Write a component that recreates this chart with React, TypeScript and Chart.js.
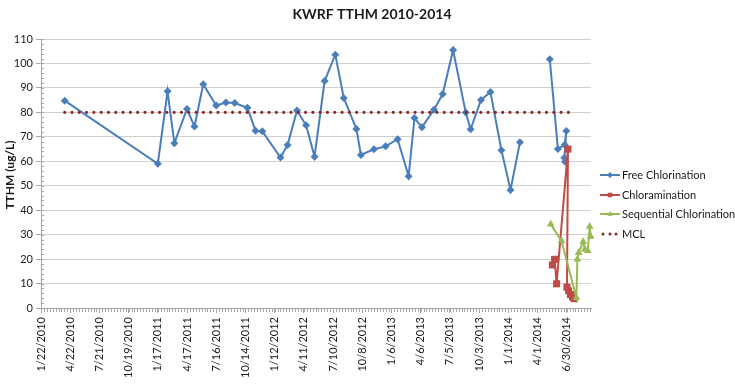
import React, { useEffect, useRef } from 'react';
import { Chart, registerables } from 'chart.js';

Chart.register(...registerables);

// ---------- data ----------
const CHART_TITLE = 'KWRF TTHM 2010-2014';
const Y_TITLE = 'TTHM (ug/L)';
const X_START = '1/22/2010';
const X_END = '9/13/2014';

const xTickLabels = [
  '1/22/2010', '4/22/2010', '7/21/2010', '10/19/2010', '1/17/2011', '4/17/2011',
  '7/16/2011', '10/14/2011', '1/12/2012', '4/11/2012', '7/10/2012', '10/8/2012',
  '1/6/2013', '4/6/2013', '7/5/2013', '10/3/2013', '1/1/2014', '4/1/2014', '6/30/2014',
];
const yTickValues = [0, 10, 20, 30, 40, 50, 60, 70, 80, 90, 100, 110];

// sample dates expressed as days after 1/22/2010
const freeDay = [73, 360, 390, 411, 450, 473, 500, 540, 570, 597, 636, 661, 682, 738, 760, 789, 817, 843, 874, 907, 933, 972, 986, 1026, 1062, 1099, 1133, 1151, 1174, 1211, 1238, 1270, 1309, 1324, 1356, 1385, 1419, 1447, 1476, 1520, 1568, 1593, 1614, 1619, 1613, 1615];
const freeValue: (number | null)[] = [84.8, 59, 88.6, 67.4, 81.4, 74.2, 91.5, 82.8, 84, 83.8, 81.9, 72.5, 72.3, 61.5, 66.7, 80.8, 74.7, 61.9, 92.8, 103.6, 85.9, 73.2, 62.6, 64.9, 66.1, 69, 53.9, 77.7, 73.9, 81.1, 87.5, 105.5, 79.9, 73.1, 85.1, 88.3, 64.5, 48.3, 67.8, null, 101.7, 65, 66.8, 72.4, 61.4, 59.8];

const chlorDay = [1576, 1583, 1589, 1624, 1621, 1626, 1632, 1638, 1643];
const chlorValue = [17.6, 19.9, 9.9, 65, 8.5, 7, 5.5, 4.5, 3.8];

const seqDay = [1571, 1604, 1650, 1653, 1657, 1671, 1676, 1685, 1691, 1694];
const seqValue = [34.2, 27.5, 4.2, 19.9, 22.6, 27.1, 24, 23.4, 33.3, 29.2];

const mclDay = [73, 1640];
const mclValue = [80, 80];

const seriesNames = ['Free Chlorination', 'Chloramination', 'Sequential Chlorination', 'MCL'];
const seriesColors = ['#4A7EBB', '#BE4B48', '#98B954', '#8C2525'];

// ---------- helpers ----------
const BASE = Date.UTC(2010, 0, 22);
function dayOf(label: string): number {
  const [m, d, y] = label.split('/').map(Number);
  return Math.round((Date.UTC(y, m - 1, d) - BASE) / 86400000);
}
function pts(days: number[], vals: (number | null)[]) {
  return days.map((d, i) => ({ x: d, y: vals[i] }));
}

const FONT = 'Lato, "Open Sans", sans-serif';

function drawMarker(ctx: CanvasRenderingContext2D, style: string, x: number, y: number, r: number, color: string) {
  ctx.fillStyle = color;
  ctx.beginPath();
  if (style === 'rectRot') {
    ctx.moveTo(x, y - r); ctx.lineTo(x + r, y); ctx.lineTo(x, y + r); ctx.lineTo(x - r, y);
  } else if (style === 'rect') {
    ctx.rect(x - r * 0.75, y - r * 0.75, r * 1.5, r * 1.5);
  } else {
    ctx.moveTo(x, y - r); ctx.lineTo(x + r * 0.9, y + r * 0.6); ctx.lineTo(x - r * 0.9, y + r * 0.6);
  }
  ctx.closePath();
  ctx.fill();
}

const overlayPlugin = {
  id: 'overlay',
  afterDraw(chart: any) {
    const ctx: CanvasRenderingContext2D = chart.ctx;
    const { left, right, bottom } = chart.chartArea;
    const xs = chart.scales.x;
    const ys = chart.scales.y;
    ctx.save();

    // minor ticks
    ctx.strokeStyle = '#a6a6a6';
    ctx.lineWidth = 1;
    ctx.beginPath();
    for (let d = dayOf(X_START); d <= dayOf(X_END); d += 9) {
      const px = Math.round(xs.getPixelForValue(d)) + 0.5;
      ctx.moveTo(px, bottom);
      ctx.lineTo(px, bottom + 4);
    }
    for (let v = 0; v <= 110; v += 2) {
      const py = Math.round(ys.getPixelForValue(v)) + 0.5;
      ctx.moveTo(left, py);
      ctx.lineTo(left + 3, py);
    }
    ctx.stroke();

    // title
    ctx.fillStyle = '#1a1a1a';
    ctx.font = `bold 14px ${FONT}`;
    ctx.textAlign = 'center';
    ctx.textBaseline = 'middle';
    ctx.fillText(CHART_TITLE, 372, 14);

    // y title
    ctx.save();
    ctx.translate(10, 175);
    ctx.rotate(-Math.PI / 2);
    ctx.font = `bold 12px ${FONT}`;
    ctx.fillText(Y_TITLE, 0, 0);
    ctx.restore();

    // legend
    const styles = ['rectRot', 'rect', 'triangle', 'dots'];
    const ly = [175, 195, 214, 234];
    const lx = right + 9;
    ctx.font = `11px ${FONT}`;
    ctx.textAlign = 'left';
    ctx.textBaseline = 'middle';
    seriesNames.forEach((name, i) => {
      const y = ly[i];
      const c = seriesColors[i];
      if (styles[i] === 'dots') {
        ctx.fillStyle = c;
        [lx + 3, lx + 10, lx + 16].forEach((dx) => {
          ctx.beginPath();
          ctx.arc(dx, y, 1.5, 0, Math.PI * 2);
          ctx.fill();
        });
      } else {
        ctx.strokeStyle = c;
        ctx.lineWidth = 2;
        ctx.beginPath();
        ctx.moveTo(lx, y);
        ctx.lineTo(lx + 20, y);
        ctx.stroke();
        drawMarker(ctx, styles[i], lx + 10, y, 3, c);
      }
      ctx.fillStyle = '#1a1a1a';
      ctx.fillText(name, lx + 22, y);
    });

    ctx.restore();
  },
};

export default function App() {
  const ref = useRef<HTMLCanvasElement>(null);

  useEffect(() => {
    if (!ref.current) return;
    const labelByDay = new Map<number, string>();
    xTickLabels.forEach((l) => labelByDay.set(dayOf(l), l));

    const chart = new Chart(ref.current, {
      type: 'line',
      data: {
        datasets: [
          {
            label: seriesNames[0],
            data: pts(freeDay, freeValue),
            borderColor: seriesColors[0],
            backgroundColor: seriesColors[0],
            borderWidth: 2,
            pointStyle: 'rectRot',
            pointRadius: 4,
            pointBorderWidth: 0,
            tension: 0,
            spanGaps: false,
            order: 4,
            clip: false,
          },
          {
            label: seriesNames[1],
            data: pts(chlorDay, chlorValue),
            borderColor: seriesColors[1],
            backgroundColor: seriesColors[1],
            borderWidth: 2,
            pointStyle: 'rect',
            pointRadius: 5,
            pointBorderWidth: 0,
            tension: 0,
            order: 3,
            clip: false,
          },
          {
            label: seriesNames[2],
            data: pts(seqDay, seqValue),
            borderColor: seriesColors[2],
            backgroundColor: seriesColors[2],
            borderWidth: 2,
            pointStyle: 'triangle',
            pointRadius: 4.5,
            pointBorderWidth: 0,
            tension: 0,
            order: 2,
            clip: false,
          },
          {
            label: seriesNames[3],
            data: pts(mclDay, mclValue),
            borderColor: seriesColors[3],
            borderWidth: 3.2,
            borderDash: [0, 7.3],
            borderCapStyle: 'round',
            pointRadius: 0,
            tension: 0,
            order: 1,
            clip: false,
          },
        ] as any,
      },
      options: {
        animation: false,
        responsive: false,
        devicePixelRatio: 1,
        layout: { padding: { left: 0, right: 144, top: 39, bottom: 0 } },
        plugins: {
          legend: { display: false },
          title: { display: false },
          tooltip: { enabled: false },
        },
        scales: {
          x: {
            type: 'linear',
            min: dayOf(X_START),
            max: dayOf(X_END),
            afterBuildTicks: (scale: any) => {
              scale.ticks = xTickLabels.map((l) => ({ value: dayOf(l) }));
            },
            afterFit: (scale: any) => {
              scale.height = 78;
            },
            grid: {
              drawOnChartArea: false,
              drawTicks: true,
              tickLength: 5,
              tickColor: '#a6a6a6',
            },
            border: { display: true, color: '#a6a6a6' },
            ticks: {
              autoSkip: false,
              minRotation: 90,
              maxRotation: 90,
              padding: 4,
              color: '#1a1a1a',
              font: { family: FONT, size: 11 },
              callback: (v: any) => labelByDay.get(Number(v)) ?? '',
            },
          },
          y: {
            type: 'linear',
            min: 0,
            max: 110,
            afterBuildTicks: (scale: any) => {
              scale.ticks = yTickValues.map((v) => ({ value: v }));
            },
            afterFit: (scale: any) => {
              scale.width = 41;
            },
            grid: {
              color: '#d0d0d0',
              drawTicks: true,
              tickLength: 5,
              tickColor: '#a6a6a6',
            },
            border: { display: true, color: '#a6a6a6' },
            ticks: {
              padding: 3,
              color: '#1a1a1a',
              font: { family: FONT, size: 11 },
            },
          },
        },
      },
      plugins: [overlayPlugin],
    } as any);

    return () => chart.destroy();
  }, []);

  return (
    <div style={{ position: 'fixed', left: 0, top: 0, width: 735, height: 386, background: '#fff' }}>
      <canvas ref={ref} width={735} height={386} style={{ display: 'block' }} />
    </div>
  );
}
